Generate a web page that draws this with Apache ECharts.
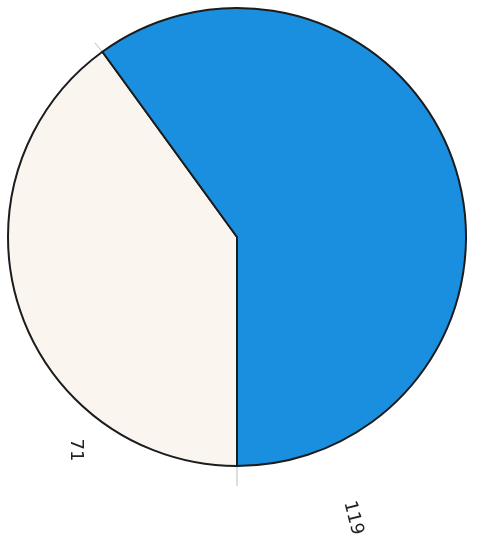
<!DOCTYPE html>
<html>
<head>
<meta charset="utf-8">
<script src="https://cdn.jsdelivr.net/npm/echarts@6/dist/echarts.min.js"></script>
<style>
  html, body { margin: 0; padding: 0; background: #ffffff; }
  #main { width: 479px; height: 547px; }
</style>
</head>
<body>
<div id="main"></div>
<script>
// slices (beige first, clockwise from the bottom)
var sliceNames = ['beige', 'blue'];
var sliceValues = [40, 60];
var sliceColors = ['#faf5ee', '#1a8fe0'];
// handwritten numbers next to the pie
var handLabels = ['71', '119'];

var chart = echarts.init(document.getElementById('main'));

var pieData = [];
for (var i = 0; i < sliceNames.length; i++) {
    pieData.push({
        name: sliceNames[i],
        value: sliceValues[i],
        itemStyle: { color: sliceColors[i] }
    });
}

var option = {
    backgroundColor: '#ffffff',
    animation: false,
    series: [
        {
            type: 'pie',
            center: [237, 237],
            radius: 229,
            startAngle: 270,
            clockwise: true,
            label: { show: false },
            labelLine: { show: false },
            itemStyle: {
                borderColor: '#1c1c1c',
                borderWidth: 2
            },
            emphasis: { disabled: true },
            data: pieData
        }
    ],
    graphic: [
        // faint pencil guide lines
        { type: 'line', shape: { x1: 95, y1: 43, x2: 104, y2: 54 }, style: { stroke: '#bbbbbb', lineWidth: 1 } },
        { type: 'line', shape: { x1: 237, y1: 466, x2: 237, y2: 486 }, style: { stroke: '#bbbbbb', lineWidth: 1 } },
        {
            type: 'text', x: 76, y: 450, rotation: -Math.PI / 2,
            style: { text: handLabels[0], font: '18px "DejaVu Sans"', fill: '#222', align: 'center', verticalAlign: 'middle' }
        },
        {
            type: 'text', x: 353, y: 518, rotation: -Math.PI * 0.42,
            style: { text: handLabels[1], font: '18px "DejaVu Sans"', fill: '#222', align: 'center', verticalAlign: 'middle' }
        }
    ]
};

chart.setOption(option);
</script>
</body>
</html>
